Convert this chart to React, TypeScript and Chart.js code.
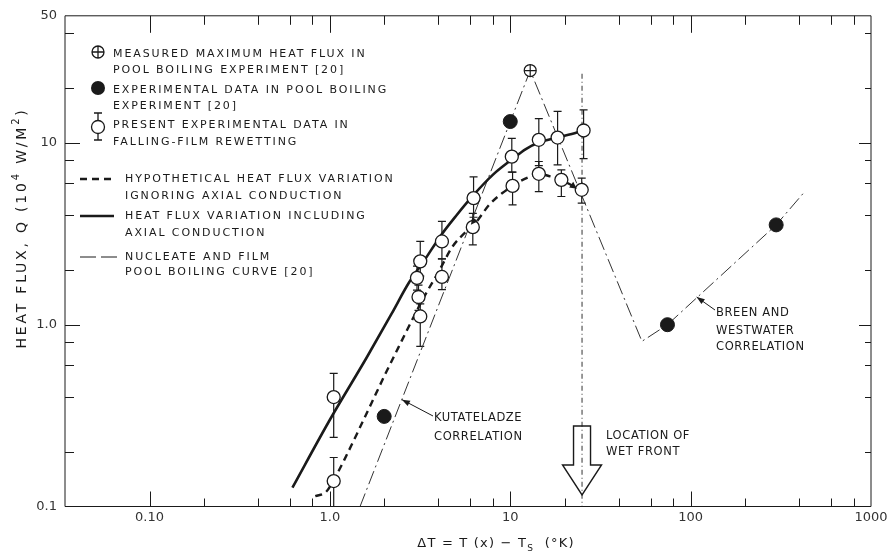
import React, { useEffect, useRef } from 'react';
import { Chart, registerables } from 'chart.js';

Chart.register(...registerables);

// ---------------- data ----------------
// present experimental data (falling-film rewetting) with error bars
const presentX = [1.05, 1.05, 3.17, 3.04, 3.1, 3.17, 4.18, 4.18, 6.26, 6.2, 10.2, 10.3, 14.4, 14.4, 18.3, 19.2, 25.5, 24.9];
const presentY = [0.40, 0.138, 2.23, 1.81, 1.42, 1.11, 2.87, 1.83, 4.97, 3.44, 8.4, 5.8, 10.4, 6.76, 10.7, 6.26, 11.7, 5.52];
const presentLow = [0.24, 0.1, 1.85, 1.55, 1.2, 0.76, 2.3, 1.56, 3.9, 2.75, 6.9, 4.56, 7.5, 5.4, 7.56, 5.07, 8.2, 4.66];
const presentHigh = [0.54, 0.186, 2.87, 2.1, 1.65, 1.3, 3.7, 2.3, 6.5, 4.1, 10.6, 6.9, 13.6, 7.9, 14.9, 7.1, 15.2, 6.4];

// experimental data in pool boiling experiment [20]
const poolDataX = [2.0, 10.0, 74.4, 298];
const poolDataY = [0.313, 13.1, 1.0, 3.54];

// measured maximum heat flux in pool boiling experiment
const maxFluxX = [12.9];
const maxFluxY = [25];

// heat flux variation including axial conduction (solid)
const solidX = [0.62, 1.0, 1.6, 2.2, 2.73, 3.4, 4.09, 5.0, 6.26, 8.0, 10.2, 12.2, 14.4, 18.3, 23.4, 25.5];
const solidY = [0.127, 0.30, 0.66, 1.15, 1.69, 2.32, 3.06, 3.96, 5.17, 6.67, 8.1, 9.25, 10.05, 10.7, 11.4, 11.7];

// hypothetical heat flux variation ignoring axial conduction (dashed)
const dashedX = [0.83, 0.95, 1.05, 1.2, 1.42, 1.7, 2.0, 2.4, 2.8, 3.3, 4.0, 4.8, 5.6, 6.3, 7.7, 9.0, 10.3, 11.5, 12.8, 14.4, 16.6, 19.2, 21.9, 24.9];
const dashedY = [0.114, 0.12, 0.14, 0.18, 0.254, 0.37, 0.52, 0.75, 1.02, 1.4, 1.95, 2.7, 3.2, 3.55, 4.6, 5.28, 5.8, 6.2, 6.5, 6.76, 6.55, 6.26, 5.85, 5.52];

// nucleate and film pool boiling curve (dash-dot)
const poolCurveX = [1.47, 12.9, 53.7, 74.4, 298, 422];
const poolCurveY = [0.1, 25, 0.81, 1.0, 3.54, 5.29];

// location of wet front (vertical dash-dot)
const wetFrontX = [25, 25];
const wetFrontY = [24, 0.1];

// small direction arrowheads on the dashed curve: [fromX, fromY, toX, toY]
const dashArrowFrom = [{ x: 6.9, y: 4.2 }, { x: 21.0, y: 6.05 }];
const dashArrowTo = [{ x: 6.05, y: 3.55 }, { x: 23.4, y: 5.6 }];

// axes
const xMin = 0.034;
const xMax = 1000;
const yMin = 0.1;
const yMax = 50;
const xTickValues = [0.1, 0.2, 0.4, 0.6, 0.8, 1, 2, 4, 6, 8, 10, 20, 40, 60, 80, 100, 200, 400, 600, 800, 1000];
const xMajorValues = [0.1, 1, 10, 100, 1000];
const xLabelTexts = ['0.10', '1.0', '10', '100', '1000'];
const yTickValues = [0.1, 0.2, 0.4, 0.6, 0.8, 1, 2, 4, 6, 8, 10, 20, 40, 50];
const yMajorValues = [0.1, 1, 10, 50];
const yLabelTexts = ['0.1', '1.0', '10', '50'];

// annotation anchors on curves (data coordinates)
const kutaTip = { x: 2.51, y: 0.387 };
const breenTip = { x: 108, y: 1.42 };

// ---------------- helpers ----------------
const FONT = '"DejaVu Sans", "Liberation Sans", sans-serif';
const INK = '#1a1a1a';

type Part = { t: string; sup?: boolean; sub?: boolean };

function drawRich(ctx: CanvasRenderingContext2D, parts: Part[], cx: number, cy: number, size: number, spacing: number) {
  const small = Math.round(size * 0.68);
  const widths = parts.map((p) => {
    ctx.font = `${p.sup || p.sub ? small : size}px ${FONT}`;
    (ctx as any).letterSpacing = `${spacing}px`;
    return ctx.measureText(p.t).width;
  });
  const total = widths.reduce((a, b) => a + b, 0);
  let x = cx - total / 2;
  ctx.textAlign = 'left';
  ctx.textBaseline = 'middle';
  parts.forEach((p, i) => {
    ctx.font = `${p.sup || p.sub ? small : size}px ${FONT}`;
    (ctx as any).letterSpacing = `${spacing}px`;
    const dy = p.sup ? -size * 0.42 : p.sub ? size * 0.35 : 0;
    ctx.fillText(p.t, x, cy + dy);
    x += widths[i];
  });
}

function text(ctx: CanvasRenderingContext2D, s: string, x: number, y: number, size: number, spacing: number) {
  ctx.font = `${size}px ${FONT}`;
  (ctx as any).letterSpacing = `${spacing}px`;
  ctx.textAlign = 'left';
  ctx.textBaseline = 'middle';
  ctx.fillText(s, x, y);
}

function arrowHead(ctx: CanvasRenderingContext2D, x0: number, y0: number, x1: number, y1: number, L = 8, w = 3) {
  const a = Math.atan2(y1 - y0, x1 - x0);
  ctx.beginPath();
  ctx.moveTo(x1, y1);
  ctx.lineTo(x1 - L * Math.cos(a) + w * Math.sin(a), y1 - L * Math.sin(a) - w * Math.cos(a));
  ctx.lineTo(x1 - L * Math.cos(a) - w * Math.sin(a), y1 - L * Math.sin(a) + w * Math.cos(a));
  ctx.closePath();
  ctx.fill();
}

function arrow(ctx: CanvasRenderingContext2D, x0: number, y0: number, x1: number, y1: number) {
  ctx.beginPath();
  ctx.moveTo(x0, y0);
  ctx.lineTo(x1, y1);
  ctx.stroke();
  arrowHead(ctx, x0, y0, x1, y1);
}

const annotPlugin = {
  id: 'annot',
  beforeDraw(chart: any) {
    const { ctx, width, height } = chart;
    ctx.save();
    ctx.fillStyle = '#ffffff';
    ctx.fillRect(0, 0, width, height);
    ctx.restore();
  },
  beforeDatasetsDraw(chart: any) {
    const { ctx } = chart;
    const xs = chart.scales.x;
    const ys = chart.scales.y;
    ctx.save();
    ctx.strokeStyle = INK;
    ctx.lineWidth = 1.2;
    presentX.forEach((xv, i) => {
      const px = xs.getPixelForValue(xv);
      const pl = ys.getPixelForValue(presentLow[i]);
      const ph = ys.getPixelForValue(presentHigh[i]);
      ctx.beginPath();
      ctx.moveTo(px, pl);
      ctx.lineTo(px, ph);
      ctx.moveTo(px - 4, pl);
      ctx.lineTo(px + 4, pl);
      ctx.moveTo(px - 4, ph);
      ctx.lineTo(px + 4, ph);
      ctx.stroke();
    });
    ctx.restore();
  },
  afterDatasetsDraw(chart: any) {
    const { ctx } = chart;
    const xs = chart.scales.x;
    const ys = chart.scales.y;
    ctx.save();
    ctx.fillStyle = INK;
    dashArrowFrom.forEach((f, i) => {
      const t = dashArrowTo[i];
      arrowHead(ctx, xs.getPixelForValue(f.x), ys.getPixelForValue(f.y), xs.getPixelForValue(t.x), ys.getPixelForValue(t.y), 7, 3.5);
    });
    ctx.restore();
  },
  afterDraw(chart: any) {
    const { ctx, chartArea } = chart;
    const { left, right, top, bottom } = chartArea;
    const xs = chart.scales.x;
    const ys = chart.scales.y;
    ctx.save();
    ctx.strokeStyle = INK;
    ctx.fillStyle = INK;
    ctx.lineWidth = 1;

    // frame
    ctx.beginPath();
    ctx.rect(left, top, right - left, bottom - top);
    ctx.stroke();

    // inward ticks
    ctx.beginPath();
    xTickValues.forEach((v) => {
      if (v <= xMin || v >= xMax) return;
      const px = Math.round(xs.getPixelForValue(v)) + 0.5;
      const major = xMajorValues.includes(v);
      const lb = major ? 15 : 8;
      const lt = major ? 17 : 9;
      ctx.moveTo(px, bottom);
      ctx.lineTo(px, bottom - lb);
      ctx.moveTo(px, top);
      ctx.lineTo(px, top + lt);
    });
    yTickValues.forEach((v) => {
      if (v <= yMin || v >= yMax) return;
      const py = Math.round(ys.getPixelForValue(v)) + 0.5;
      const major = yMajorValues.includes(v);
      const l = major ? 15 : 9;
      ctx.moveTo(left, py);
      ctx.lineTo(left + l, py);
      ctx.moveTo(right, py);
      ctx.lineTo(right - (major ? 12 : 6), py);
    });
    ctx.stroke();

    // axis titles
    ctx.fillStyle = INK;
    ctx.save();
    ctx.translate(22, 228);
    ctx.rotate(-Math.PI / 2);
    drawRich(ctx, [
      { t: 'HEAT FLUX, Q (10' },
      { t: '4', sup: true },
      { t: ' W/M' },
      { t: '2', sup: true },
      { t: ')' },
    ], 0, 0, 14, 2.8);
    ctx.restore();
    drawRich(ctx, [
      { t: 'ΔT = T (x) − T' },
      { t: 'S', sub: true },
      { t: '  (°K)' },
    ], 496, 544, 13, 1.2);

    // legend
    const lx = 98;
    // measured max
    ctx.lineWidth = 1.3;
    ctx.beginPath();
    ctx.arc(lx, 52, 6, 0, Math.PI * 2);
    ctx.moveTo(lx - 6, 52);
    ctx.lineTo(lx + 6, 52);
    ctx.moveTo(lx, 46);
    ctx.lineTo(lx, 58);
    ctx.stroke();
    // filled circle
    ctx.beginPath();
    ctx.arc(lx, 88, 7, 0, Math.PI * 2);
    ctx.fill();
    // open circle with error bar
    ctx.beginPath();
    ctx.moveTo(lx, 113);
    ctx.lineTo(lx, 140);
    ctx.moveTo(lx - 4, 113);
    ctx.lineTo(lx + 4, 113);
    ctx.moveTo(lx - 4, 140);
    ctx.lineTo(lx + 4, 140);
    ctx.stroke();
    ctx.fillStyle = '#fff';
    ctx.beginPath();
    ctx.arc(lx, 127, 6.5, 0, Math.PI * 2);
    ctx.fill();
    ctx.stroke();
    ctx.fillStyle = INK;
    // dashed sample
    ctx.lineWidth = 2.4;
    ctx.setLineDash([7, 5]);
    ctx.beginPath();
    ctx.moveTo(80, 179);
    ctx.lineTo(114, 179);
    ctx.stroke();
    // solid sample
    ctx.setLineDash([]);
    ctx.beginPath();
    ctx.moveTo(80, 216);
    ctx.lineTo(114, 216);
    ctx.stroke();
    // dash-dot sample
    ctx.lineWidth = 1;
    ctx.setLineDash([16, 5]);
    ctx.beginPath();
    ctx.moveTo(80, 257);
    ctx.lineTo(119, 257);
    ctx.stroke();
    ctx.setLineDash([]);

    const ls = 11;
    const sp = 1.9;
    text(ctx, 'MEASURED MAXIMUM HEAT FLUX IN', 113, 54, ls, sp);
    text(ctx, 'POOL BOILING EXPERIMENT [20]', 113, 70, ls, sp);
    text(ctx, 'EXPERIMENTAL DATA IN POOL BOILING', 113, 90, ls, sp);
    text(ctx, 'EXPERIMENT [20]', 113, 106, ls, sp);
    text(ctx, 'PRESENT EXPERIMENTAL DATA IN', 113, 125, ls, sp);
    text(ctx, 'FALLING-FILM REWETTING', 113, 142, ls, sp);
    text(ctx, 'HYPOTHETICAL HEAT FLUX VARIATION', 125, 179, ls, sp);
    text(ctx, 'IGNORING AXIAL CONDUCTION', 125, 196, ls, sp);
    text(ctx, 'HEAT FLUX VARIATION INCLUDING', 125, 216, ls, sp);
    text(ctx, 'AXIAL CONDUCTION', 125, 233, ls, sp);
    text(ctx, 'NUCLEATE AND FILM', 125, 257, ls, sp);
    text(ctx, 'POOL BOILING CURVE [20]', 125, 272, ls, sp);

    // Kutateladze correlation
    text(ctx, 'KUTATELADZE', 434, 418, 11.5, 0.6);
    text(ctx, 'CORRELATION', 434, 437, 11.5, 0.6);
    ctx.lineWidth = 1;
    arrow(ctx, 433, 416, xs.getPixelForValue(kutaTip.x), ys.getPixelForValue(kutaTip.y));

    // Breen and Westwater correlation
    text(ctx, 'BREEN AND', 716, 313, 11.5, 0.6);
    text(ctx, 'WESTWATER', 716, 331, 11.5, 0.6);
    text(ctx, 'CORRELATION', 716, 347, 11.5, 0.6);
    arrow(ctx, 715, 310, xs.getPixelForValue(breenTip.x), ys.getPixelForValue(breenTip.y));

    // location of wet front
    text(ctx, 'LOCATION OF', 606, 436, 11.5, 0.6);
    text(ctx, 'WET FRONT', 606, 452, 11.5, 0.6);
    const cx = xs.getPixelForValue(wetFrontX[0]);
    const tip = bottom - 11.5;
    const headTop = bottom - 41.5;
    const shaftTop = bottom - 80.5;
    ctx.lineWidth = 1.4;
    ctx.beginPath();
    ctx.moveTo(cx - 8.5, shaftTop);
    ctx.lineTo(cx + 8.5, shaftTop);
    ctx.lineTo(cx + 8.5, headTop);
    ctx.lineTo(cx + 19.5, headTop);
    ctx.lineTo(cx, tip);
    ctx.lineTo(cx - 19.5, headTop);
    ctx.lineTo(cx - 8.5, headTop);
    ctx.closePath();
    ctx.stroke();

    ctx.restore();
  },
};

const pts = (xs: number[], ys: number[]) => xs.map((x, i) => ({ x, y: ys[i] }));

export default function App() {
  const ref = useRef<HTMLCanvasElement>(null);
  useEffect(() => {
    if (!ref.current) return;
    const chart = new Chart(ref.current, {
      type: 'scatter',
      data: {
        datasets: [
          {
            data: pts(maxFluxX, maxFluxY),
            pointStyle: 'cross',
            pointRadius: 6,
            borderColor: INK,
            borderWidth: 1.2,
          },
          {
            data: pts(maxFluxX, maxFluxY),
            pointStyle: 'circle',
            pointRadius: 6,
            backgroundColor: '#fff',
            borderColor: INK,
            borderWidth: 1.2,
          },
          {
            data: pts(presentX, presentY),
            pointStyle: 'circle',
            pointRadius: 6.5,
            backgroundColor: '#fff',
            borderColor: INK,
            borderWidth: 1.3,
          },
          {
            data: pts(poolDataX, poolDataY),
            pointStyle: 'circle',
            pointRadius: 7,
            backgroundColor: INK,
            borderColor: INK,
            borderWidth: 1,
          },
          {
            data: pts(solidX, solidY),
            showLine: true,
            pointRadius: 0,
            borderColor: INK,
            borderWidth: 2.6,
            cubicInterpolationMode: 'monotone',
          },
          {
            data: pts(dashedX, dashedY),
            showLine: true,
            pointRadius: 0,
            borderColor: INK,
            borderWidth: 2.4,
            borderDash: [7, 5],
            cubicInterpolationMode: 'monotone',
          },
          {
            data: pts(poolCurveX, poolCurveY),
            showLine: true,
            pointRadius: 0,
            borderColor: '#333',
            borderWidth: 1,
            borderDash: [14, 4, 2, 4],
          },
          {
            data: pts(wetFrontX, wetFrontY),
            showLine: true,
            pointRadius: 0,
            borderColor: '#333',
            borderWidth: 1,
            borderDash: [5, 3, 1, 3],
          },
        ] as any,
      },
      options: {
        animation: false,
        responsive: false,
        devicePixelRatio: 1,
        events: [],
        layout: { padding: { left: 31, right: 20, top: 13.5, bottom: 27.5 } },
        plugins: { legend: { display: false }, tooltip: { enabled: false } },
        scales: {
          x: {
            type: 'logarithmic',
            min: xMin,
            max: xMax,
            grid: { display: false, drawTicks: false, tickLength: 0 },
            border: { display: false },
            afterBuildTicks: (s: any) => {
              s.ticks = xTickValues.map((v) => ({ value: v }));
            },
            afterFit: (s: any) => {
              s.height = 22;
            },
            ticks: {
              autoSkip: false,
              maxRotation: 0,
              padding: 3,
              color: '#333',
              font: { family: FONT, size: 13 },
              callback: (v: any) => {
                const i = xMajorValues.indexOf(Number(v));
                return i >= 0 ? xLabelTexts[i] : '';
              },
            },
          },
          y: {
            type: 'logarithmic',
            min: yMin,
            max: yMax,
            grid: { display: false, drawTicks: false, tickLength: 0 },
            border: { display: false },
            afterBuildTicks: (s: any) => {
              s.ticks = yTickValues.map((v) => ({ value: v }));
            },
            afterFit: (s: any) => {
              s.width = 34;
            },
            ticks: {
              autoSkip: false,
              padding: 8,
              color: '#333',
              font: { family: FONT, size: 13 },
              callback: (v: any) => {
                const i = yMajorValues.indexOf(Number(v));
                return i >= 0 ? yLabelTexts[i] : '';
              },
            },
          },
        },
      } as any,
      plugins: [annotPlugin],
    });
    return () => chart.destroy();
  }, []);
  return (
    <div style={{ position: 'absolute', left: 0, top: 0, width: 891, height: 556, background: '#fff' }}>
      <canvas ref={ref} width={891} height={556} style={{ width: 891, height: 556 }} />
    </div>
  );
}
